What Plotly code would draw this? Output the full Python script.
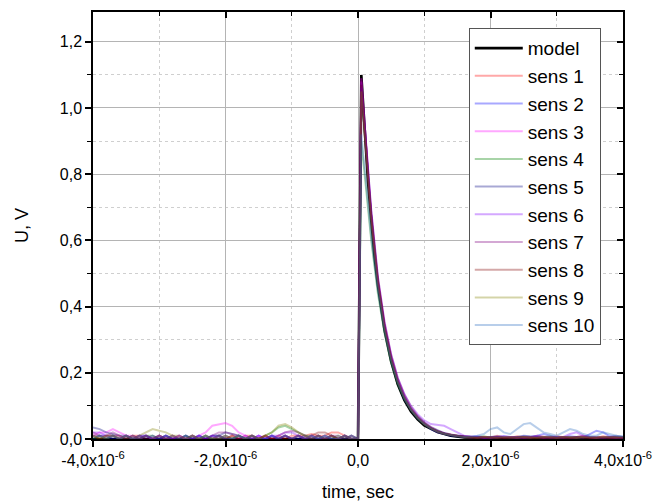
import numpy as np
import plotly.graph_objects as go

# ---- model pulse (time in microseconds, voltage in V) ----
model_t_us = [-4.0, 0.0, 0.05, 0.1, 0.15, 0.2, 0.25, 0.3, 0.35, 0.4, 0.5, 0.6, 0.7,
              0.8, 0.9, 1.0, 1.2, 1.4, 1.6, 1.8, 2.0, 4.0]
model_v = [0.0, 0.0, 1.10, 0.93, 0.78, 0.66, 0.55, 0.465, 0.39, 0.33, 0.235, 0.165, 0.117,
           0.083, 0.059, 0.041, 0.021, 0.010, 0.005, 0.0025, 0.001, 0.0]

# ---- common sensor time grid (microseconds) ----
sens_t_us = ([round(-4.0 + 0.1 * i, 2) for i in range(40)] + [0.0, 0.05] +
             [round(0.1 * i, 2) for i in range(1, 41)])

sens_names = ["sens 1", "sens 2", "sens 3", "sens 4", "sens 5",
              "sens 6", "sens 7", "sens 8", "sens 9", "sens 10"]
sens_colors = ["rgba(255,0,0,0.34)", "rgba(0,0,255,0.34)", "rgba(255,0,255,0.34)",
               "rgba(0,128,0,0.34)", "rgba(0,0,128,0.34)", "rgba(128,0,255,0.34)",
               "rgba(128,0,128,0.34)", "rgba(128,0,0,0.34)", "rgba(128,128,0,0.34)",
               "rgba(48,112,192,0.34)"]

s1 = [0.01, 0.01, 0.00, 0.01, 0.01, 0.00, 0.01, 0.01, 0.00, 0.00,
      0.01, 0.00, 0.01, 0.00, 0.00, 0.01, 0.00, 0.00, 0.00, 0.01,
      0.00, 0.01, 0.00, 0.01, 0.01, 0.00, 0.01, 0.00, 0.01, 0.00,
      0.01, 0.01, 0.01, 0.015, 0.01, 0.01, 0.02, 0.02, 0.01, 0.00,
      0.0, 1.08,
      0.94, 0.67, 0.48, 0.34, 0.245, 0.175, 0.125, 0.09, 0.065, 0.045,
      0.032, 0.022, 0.016, 0.012, 0.01,
      0.008, 0.006, 0.005, 0.005, 0.004, 0.01, 0.005, 0.003, 0.008, 0.005,
      0.004, 0.01, 0.006, 0.004, 0.008, 0.005, 0.003, 0.006, 0.01, 0.005,
      0.004, 0.008, 0.005, 0.006, 0.004]
s2 = [0.00, 0.01, 0.01, 0.00, 0.00, 0.01, 0.00, 0.01, 0.01, 0.00,
      0.00, 0.01, 0.00, 0.00, 0.01, 0.00, 0.01, 0.00, 0.01, 0.01,
      0.00, 0.00, 0.01, 0.00, 0.00, 0.01, 0.00, 0.01, 0.00, 0.01,
      0.00, 0.00, 0.01, 0.00, 0.01, 0.00, 0.01, 0.00, 0.00, 0.01,
      0.0, 1.06,
      0.93, 0.67, 0.47, 0.34, 0.24, 0.17, 0.12, 0.088, 0.062, 0.045,
      0.03, 0.02, 0.015, 0.01, 0.008,
      0.006, 0.005, 0.008, 0.004, 0.006, 0.005, 0.008, 0.006, 0.004, 0.008,
      0.006, 0.01, 0.015, 0.01, 0.006, 0.005, 0.008, 0.006, 0.004, 0.015,
      0.025, 0.02, 0.008, 0.006, 0.005]
s3 = [0.01, 0.02, 0.02, 0.03, 0.02, 0.01, 0.01, 0.00, 0.01, 0.00,
      0.01, 0.00, 0.00, 0.01, 0.00, 0.00, 0.01, 0.02, 0.04, 0.045,
      0.048, 0.04, 0.02, 0.01, 0.00, 0.01, 0.00, 0.01, 0.00, 0.01,
      0.00, 0.01, 0.00, 0.01, 0.00, 0.00, 0.01, 0.00, 0.01, 0.00,
      0.0, 1.09,
      0.95, 0.68, 0.48, 0.35, 0.25, 0.18, 0.13, 0.09, 0.066, 0.048,
      0.034, 0.024, 0.017, 0.012, 0.01,
      0.006, 0.004, 0.005, 0.003, 0.005, 0.004, 0.006, 0.004, 0.003, 0.005,
      0.004, 0.006, 0.003, 0.005, 0.004, 0.003, 0.005, 0.004, 0.006, 0.004,
      0.003, 0.005, 0.004, 0.003, 0.005]
s4 = [0.00, 0.01, 0.00, 0.01, 0.00, 0.00, 0.01, 0.00, 0.01, 0.01,
      0.00, 0.01, 0.00, 0.00, 0.01, 0.00, 0.00, 0.01, 0.00, 0.00,
      0.01, 0.00, 0.01, 0.00, 0.00, 0.00, 0.01, 0.02, 0.035, 0.04,
      0.03, 0.02, 0.01, 0.01, 0.00, 0.01, 0.00, 0.01, 0.00, 0.01,
      0.0, 0.90,
      0.80, 0.60, 0.44, 0.32, 0.23, 0.165, 0.12, 0.087, 0.062, 0.045,
      0.032, 0.023, 0.016, 0.012, 0.01,
      0.008, 0.005, 0.006, 0.008, 0.004, 0.006, 0.005, 0.004, 0.006, 0.005,
      0.004, 0.006, 0.005, 0.008, 0.004, 0.005, 0.006, 0.004, 0.005, 0.006,
      0.004, 0.005, 0.006, 0.004, 0.005]
s5 = [0.035, 0.03, 0.02, 0.015, 0.01, 0.01, 0.00, 0.01, 0.00, 0.01,
      0.00, 0.01, 0.00, 0.00, 0.01, 0.00, 0.01, 0.00, 0.01, 0.01,
      0.02, 0.015, 0.01, 0.00, 0.01, 0.00, 0.00, 0.01, 0.00, 0.01,
      0.00, 0.01, 0.00, 0.00, 0.01, 0.00, 0.01, 0.00, 0.01, 0.00,
      0.0, 1.07,
      0.94, 0.68, 0.48, 0.345, 0.25, 0.18, 0.13, 0.093, 0.068, 0.05,
      0.036, 0.026, 0.018, 0.013, 0.01,
      0.008, 0.006, 0.005, 0.004, 0.006, 0.008, 0.005, 0.004, 0.006, 0.01,
      0.008, 0.006, 0.005, 0.004, 0.006, 0.005, 0.004, 0.006, 0.008, 0.006,
      0.005, 0.004, 0.006, 0.01, 0.006]
s6 = [0.02, 0.02, 0.01, 0.01, 0.00, 0.01, 0.00, 0.01, 0.01, 0.00,
      0.00, 0.01, 0.00, 0.01, 0.00, 0.00, 0.01, 0.00, 0.01, 0.00,
      0.01, 0.00, 0.00, 0.01, 0.00, 0.01, 0.00, 0.01, 0.01, 0.02,
      0.02, 0.01, 0.00, 0.01, 0.00, 0.01, 0.00, 0.00, 0.01, 0.00,
      0.0, 1.08,
      0.95, 0.69, 0.49, 0.35, 0.255, 0.185, 0.135, 0.10, 0.075, 0.056,
      0.045, 0.042, 0.04, 0.03, 0.02,
      0.01, 0.008, 0.006, 0.005, 0.004, 0.006, 0.008, 0.006, 0.005, 0.004,
      0.006, 0.008, 0.006, 0.005, 0.004, 0.006, 0.015, 0.02, 0.01, 0.006,
      0.005, 0.004, 0.006, 0.005, 0.004]
s7 = [0.02, 0.01, 0.01, 0.02, 0.01, 0.00, 0.01, 0.00, 0.01, 0.00,
      0.01, 0.00, 0.00, 0.01, 0.00, 0.01, 0.00, 0.00, 0.01, 0.02,
      0.02, 0.015, 0.01, 0.00, 0.01, 0.00, 0.01, 0.00, 0.01, 0.02,
      0.025, 0.02, 0.01, 0.00, 0.01, 0.00, 0.01, 0.01, 0.00, 0.01,
      0.0, 1.09,
      0.95, 0.69, 0.49, 0.355, 0.255, 0.185, 0.135, 0.098, 0.07, 0.05,
      0.036, 0.025, 0.018, 0.013, 0.01,
      0.008, 0.006, 0.004, 0.005, 0.003, 0.005, 0.004, 0.006, 0.004, 0.003,
      0.005, 0.004, 0.003, 0.005, 0.004, 0.006, 0.004, 0.003, 0.005, 0.004,
      0.003, 0.005, 0.004, 0.003, 0.004]
s8 = [0.01, 0.00, 0.01, 0.01, 0.00, 0.01, 0.00, 0.00, 0.01, 0.00,
      0.01, 0.00, 0.01, 0.00, 0.00, 0.01, 0.00, 0.01, 0.00, 0.01,
      0.00, 0.01, 0.00, 0.00, 0.01, 0.00, 0.01, 0.00, 0.00, 0.01,
      0.00, 0.01, 0.00, 0.01, 0.02, 0.02, 0.01, 0.00, 0.01, 0.00,
      0.0, 1.07,
      0.93, 0.67, 0.475, 0.34, 0.245, 0.175, 0.125, 0.09, 0.065, 0.047,
      0.033, 0.023, 0.016, 0.012, 0.009,
      0.007, 0.005, 0.004, 0.006, 0.005, 0.004, 0.003, 0.005, 0.004, 0.006,
      0.004, 0.003, 0.005, 0.004, 0.003, 0.005, 0.004, 0.006, 0.004, 0.003,
      0.005, 0.004, 0.003, 0.005, 0.004]
s9 = [0.01, 0.00, 0.01, 0.01, 0.00, 0.01, 0.00, 0.01, 0.02, 0.03,
      0.025, 0.02, 0.01, 0.01, 0.00, 0.01, 0.00, 0.01, 0.00, 0.00,
      0.01, 0.00, 0.01, 0.00, 0.01, 0.00, 0.01, 0.02, 0.04, 0.045,
      0.035, 0.02, 0.01, 0.00, 0.01, 0.00, 0.01, 0.00, 0.01, 0.00,
      0.0, 1.05,
      0.92, 0.66, 0.47, 0.335, 0.24, 0.172, 0.123, 0.088, 0.063, 0.045,
      0.032, 0.022, 0.016, 0.011, 0.008,
      0.006, 0.005, 0.004, 0.006, 0.005, 0.004, 0.006, 0.005, 0.004, 0.006,
      0.005, 0.004, 0.006, 0.005, 0.004, 0.006, 0.005, 0.004, 0.006, 0.005,
      0.004, 0.006, 0.005, 0.004, 0.005]
s10 = [0.01, 0.01, 0.00, 0.01, 0.00, 0.01, 0.00, 0.00, 0.01, 0.00,
       0.01, 0.00, 0.01, 0.00, 0.00, 0.01, 0.00, 0.01, 0.00, 0.01,
       0.00, 0.00, 0.01, 0.00, 0.01, 0.00, 0.00, 0.01, 0.00, 0.01,
       0.00, 0.01, 0.00, 0.01, 0.00, 0.01, 0.00, 0.00, 0.01, 0.00,
       0.0, 0.92,
       0.82, 0.61, 0.45, 0.325, 0.235, 0.17, 0.122, 0.088, 0.063, 0.045,
       0.032, 0.022, 0.016, 0.011, 0.008,
       0.006, 0.008, 0.01, 0.015, 0.03, 0.035, 0.02, 0.015, 0.03, 0.045,
       0.048, 0.035, 0.02, 0.015, 0.01, 0.02, 0.03, 0.025, 0.015, 0.01,
       0.01, 0.02, 0.015, 0.01, 0.008]
sens_values = [s1, s2, s3, s4, s5, s6, s7, s8, s9, s10]

x_tick_vals = [-4e-6, -2e-6, 0.0, 2e-6, 4e-6]
x_tick_text = ["-4,0x10<sup>-6</sup>", "-2,0x10<sup>-6</sup>", "0,0",
               "2,0x10<sup>-6</sup>", "4,0x10<sup>-6</sup>"]
x_minor_vals = [-3e-6, -1e-6, 1e-6, 3e-6]

FONT = "Liberation Sans, Arial, sans-serif"
US = 1e-6

fig = go.Figure()
fig.add_trace(go.Scatter(x=[t * US for t in model_t_us], y=model_v, mode="lines",
                         name="model", line=dict(color="black", width=2.6)))
for name, col, vals in zip(sens_names, sens_colors, sens_values):
    fig.add_trace(go.Scatter(x=[t * US for t in sens_t_us], y=vals, mode="lines",
                             name=name, line=dict(color=col, width=2)))
# helper trace for mirror axes (top/right with inward ticks)
fig.add_trace(go.Scatter(x=[None], y=[None], xaxis="x2", yaxis="y2",
                         showlegend=False, hoverinfo="skip"))

XR = [-4e-6, 4e-6]
YR = [0, 1.29]
grid_major = "#b4b4b4"
grid_minor = "#cfcfcf"

fig.update_layout(
    width=657, height=504,
    margin=dict(l=93, r=34, t=12, b=65),
    paper_bgcolor="white", plot_bgcolor="white",
    separators=",.",
    font=dict(family=FONT, size=16, color="black"),
    showlegend=True,
    legend=dict(x=0.709, y=0.962, xanchor="left", yanchor="top",
                bgcolor="white", bordercolor="#555555", borderwidth=1,
                font=dict(family=FONT, size=19, color="black"),
                tracegroupgap=0, itemwidth=48),
    xaxis=dict(range=XR, showline=True, linecolor="black", linewidth=1.5,
               automargin=False,
               tickmode="array", tickvals=x_tick_vals, ticktext=x_tick_text,
               ticks="outside", ticklen=6, tickwidth=1.5, tickcolor="black",
               showgrid=True, gridcolor=grid_major, gridwidth=1,
               zeroline=False,
               minor=dict(tickmode="array", tickvals=x_minor_vals, ticks="outside",
                          ticklen=4, tickwidth=1.2, tickcolor="black",
                          showgrid=True, gridcolor=grid_minor, griddash="dot"),
               title=dict(text="time, sec", font=dict(size=18), standoff=17)),
    yaxis=dict(range=YR, showline=True, linecolor="black", linewidth=1.5,
               automargin=False,
               tickmode="linear", tick0=0, dtick=0.2, tickformat=".1f",
               ticks="outside", ticklen=6, tickwidth=1.5, tickcolor="black",
               showgrid=True, gridcolor=grid_major, gridwidth=1,
               zeroline=False,
               minor=dict(dtick=0.1, ticks="outside", ticklen=4, tickwidth=1.2,
                          tickcolor="black", showgrid=True, gridcolor=grid_minor,
                          griddash="dot"),
               title=dict(text="U, V", font=dict(size=18), standoff=26)),
    xaxis2=dict(range=XR, overlaying="x", side="top", anchor="y2",
                automargin=False,
                showline=True, linecolor="black", linewidth=1.5,
                tickmode="array", tickvals=x_tick_vals, showticklabels=False,
                ticks="inside", ticklen=6, tickwidth=1.5, tickcolor="black",
                showgrid=False, zeroline=False,
                minor=dict(tickmode="array", tickvals=x_minor_vals, ticks="inside",
                           ticklen=4, tickwidth=1.2, tickcolor="black", showgrid=False)),
    yaxis2=dict(range=YR, overlaying="y", side="right", anchor="x2",
                automargin=False,
                showline=True, linecolor="black", linewidth=1.5,
                tickmode="linear", tick0=0, dtick=0.2, showticklabels=False,
                ticks="inside", ticklen=6, tickwidth=1.5, tickcolor="black",
                showgrid=False, zeroline=False,
                minor=dict(dtick=0.1, ticks="inside", ticklen=4, tickwidth=1.2,
                           tickcolor="black", showgrid=False)),
)

fig.write_html("out.html", config={"displayModeBar": False},
               post_script="document.body.style.margin='0';document.body.style.overflow='hidden';")
